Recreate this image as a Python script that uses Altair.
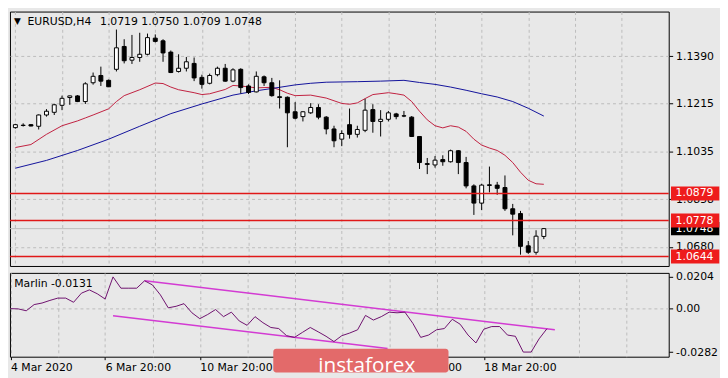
import altair as alt
import pandas as pd

symbol = "EURUSD,H4"
indicator = "Marlin"

bar_index = list(range(69))
opens = [1.1124, 1.1133, 1.1135, 1.1129, 1.1171, 1.1181, 1.1207, 1.1236, 1.1242, 1.1221,
         1.1291, 1.1318, 1.1300, 1.1341, 1.1426, 1.1375, 1.1385, 1.1397, 1.1457, 1.1447,
         1.1405, 1.1333, 1.1345, 1.1363, 1.1311, 1.1289, 1.1321, 1.1345, 1.1297, 1.1341,
         1.1279, 1.1257, 1.1313, 1.1291, 1.1239, 1.1237, 1.1183, 1.1165, 1.1179, 1.1199,
         1.1163, 1.1119, 1.1081, 1.1135, 1.1099, 1.1114, 1.1191, 1.1147, 1.1155, 1.1175,
         1.1168, 1.1163, 1.1091, 1.0990, 1.0985, 1.1005, 1.0997, 1.1038, 1.0994, 1.0907,
         1.0843, 1.0911, 1.0910, 1.0901, 1.0822, 1.0804, 1.0684, 1.0660, 1.0719]
highs = [1.1138, 1.1140, 1.1137, 1.1173, 1.1193, 1.1213, 1.1243, 1.1243, 1.1245, 1.1293,
         1.1329, 1.1351, 1.1303, 1.1489, 1.1453, 1.1469, 1.1477, 1.1474, 1.1471, 1.1453,
         1.1411, 1.1397, 1.1387, 1.1385, 1.1321, 1.1325, 1.1351, 1.1361, 1.1345, 1.1345,
         1.1285, 1.1333, 1.1318, 1.1309, 1.1300, 1.1240, 1.1219, 1.1185, 1.1215, 1.1211,
         1.1167, 1.1131, 1.1114, 1.1195, 1.1131, 1.1231, 1.1211, 1.1189, 1.1186, 1.1179,
         1.1186, 1.1167, 1.1092, 1.1011, 1.1018, 1.1021, 1.1042, 1.1040, 1.1015, 1.0913,
         1.0915, 1.0979, 1.0922, 1.0946, 1.0840, 1.0814, 1.0702, 1.0742, 1.0750]
lows = [1.1120, 1.1128, 1.1129, 1.1117, 1.1165, 1.1171, 1.1189, 1.1209, 1.1219, 1.1212,
        1.1284, 1.1279, 1.1275, 1.1333, 1.1363, 1.1361, 1.1369, 1.1393, 1.1441, 1.1369,
        1.1327, 1.1329, 1.1333, 1.1297, 1.1269, 1.1285, 1.1315, 1.1295, 1.1293, 1.1251,
        1.1249, 1.1255, 1.1279, 1.1239, 1.1195, 1.1051, 1.1155, 1.1147, 1.1175, 1.1155,
        1.1099, 1.1051, 1.1055, 1.1083, 1.1087, 1.1107, 1.1105, 1.1091, 1.1147, 1.1155,
        1.1163, 1.1089, 1.0970, 1.0951, 1.0975, 1.0982, 1.0994, 1.0951, 1.0898, 1.0799,
        1.0817, 1.0883, 1.0874, 1.0814, 1.0723, 1.0651, 1.0654, 1.0651, 1.0709]
closes = [1.1135, 1.1132, 1.1130, 1.1171, 1.1185, 1.1209, 1.1233, 1.1242, 1.1221, 1.1287,
          1.1315, 1.1297, 1.1276, 1.1421, 1.1373, 1.1385, 1.1397, 1.1459, 1.1445, 1.1402,
          1.1329, 1.1345, 1.1369, 1.1309, 1.1285, 1.1318, 1.1345, 1.1297, 1.1339, 1.1273,
          1.1255, 1.1315, 1.1291, 1.1243, 1.1236, 1.1179, 1.1159, 1.1183, 1.1199, 1.1163,
          1.1119, 1.1075, 1.1102, 1.1099, 1.1117, 1.1189, 1.1147, 1.1155, 1.1179, 1.1165,
          1.1167, 1.1091, 1.0994, 1.0987, 1.1003, 1.0997, 1.1038, 1.0994, 1.0907, 1.0843,
          1.0910, 1.0909, 1.0898, 1.0822, 1.0802, 1.0682, 1.0660, 1.0720, 1.0748]

red_ma_k = [0, 2, 4, 6, 8, 9, 10, 12, 13, 14, 16, 18, 19, 20, 21, 23, 24, 25, 27, 28,
            29, 31, 33, 34, 35, 36, 38, 40, 42, 43, 44, 45, 46, 48, 49, 50, 51, 52, 53, 54,
            55, 56, 57, 58, 59, 60, 61, 62, 63, 64, 65, 66, 67, 68]
red_ma_v = [1.1050, 1.1061, 1.1099, 1.1131, 1.1149, 1.1160, 1.1171, 1.1194, 1.1221, 1.1243,
            1.1265, 1.1290, 1.1288, 1.1275, 1.1265, 1.1254, 1.1247, 1.1250, 1.1266, 1.1281,
            1.1279, 1.1272, 1.1274, 1.1265, 1.1252, 1.1243, 1.1245, 1.1234, 1.1214, 1.1211,
            1.1216, 1.1232, 1.1247, 1.1254, 1.1250, 1.1245, 1.1221, 1.1185, 1.1153, 1.1131,
            1.1123, 1.1131, 1.1126, 1.1110, 1.1081, 1.1059, 1.1048, 1.1039, 1.1021, 1.0994,
            1.0958, 1.0928, 1.0915, 1.0913]
blue_ma_k = [0, 4, 8, 12, 16, 20, 24, 28, 31, 34, 36, 38, 40, 44, 47, 50, 52, 54, 56, 58,
             60, 62, 64, 66, 68]
blue_ma_v = [1.0973, 1.1002, 1.1039, 1.1081, 1.1129, 1.1176, 1.1212, 1.1245, 1.1261, 1.1274,
             1.1283, 1.1289, 1.1293, 1.1295, 1.1297, 1.1300, 1.1292, 1.1285, 1.1275, 1.1263,
             1.1250, 1.1238, 1.1221, 1.1196, 1.1167]

marlin = [-0.0001, -0.0003, -0.0015, 0.0025, 0.0035, 0.0052, 0.0067, 0.0067, 0.0040, 0.0099,
          0.0120, 0.0095, 0.0061, 0.0204, 0.0131, 0.0131, 0.0131, 0.0179, 0.0152, 0.0088,
          0.0004, 0.0014, 0.0031, -0.0028, -0.0066, -0.0039, -0.0007, -0.0053, -0.0024, -0.0081,
          -0.0109, -0.0053, -0.0092, -0.0123, -0.0130, -0.0176, -0.0187, -0.0155, -0.0123, -0.0151,
          -0.0180, -0.0214, -0.0176, -0.0159, -0.0138, -0.0045, -0.0075, -0.0053, -0.0024, -0.0028,
          -0.0024, -0.0096, -0.0187, -0.0172, -0.0138, -0.0130, -0.0070, -0.0102, -0.0172, -0.0223,
          -0.0134, -0.0117, -0.0117, -0.0172, -0.0180, -0.0282, -0.0282, -0.0197, -0.0131]

trend_k1 = [17, 13]
trend_k2 = [69, 47.8]
trend_v1 = [0.0179, -0.0047]
trend_v2 = [-0.0138, -0.0259]

price_ticks = [1.1390, 1.1215, 1.1035, 1.0858, 1.0680]
marlin_ticks = [0.0204, 0.0, -0.0282]
date_ticks = [0, 12, 24, 36, 48, 60]
date_labels = ["4 Mar 2020", "6 Mar 20:00", "10 Mar 20:00", "12 Mar 20:00",
               "16 Mar 20:00", "18 Mar 20:00"]
level_prices = [1.0879, 1.0778, 1.0644]
bid_price = 1.0748
watermark = "instaforex"

# ---------------- styling ----------------
W, HM, HL = 668, 258, 85
BG = "#E8E8E8"
GRID = "#BCBCBC"
FONT = "DejaVu Sans"

xs = alt.Scale(domain=[-0.0625, 83.4375], nice=False, zero=False)
ys_main = alt.Scale(domain=[1.0609, 1.1556], nice=False, zero=False)
ys_low = alt.Scale(domain=[-0.0312, 0.0230], nice=False, zero=False)
grid_pos = list(range(0, 84, 6))

ax_x_main = alt.Axis(values=grid_pos, labels=False, ticks=False, domain=False, grid=True,
                     gridDash=[3, 3], gridColor=GRID, title=None, zindex=0)
ax_y_main = alt.Axis(orient="right", values=price_ticks, format=".4f", domain=False,
                     tickSize=4, tickColor="black", labelPadding=3, labelFont=FONT,
                     labelFontSize=11, labelColor="black", grid=True, gridDash=[3, 3],
                     gridColor=GRID, title=None, zindex=0, labelOverlap=False)

date_expr = "''"
for pos, lab in reversed(list(zip(date_ticks, date_labels))):
    date_expr = f"datum.value == {pos} ? '{lab}' : ({date_expr})"

marlin_expr = "''"
for v in reversed(marlin_ticks):
    lab = "0.00" if v == 0 else f"{v:.4f}"
    marlin_expr = f"abs(datum.value - ({v})) < 1e-9 ? '{lab}' : ({marlin_expr})"

ax_x_low = alt.Axis(values=grid_pos, grid=True, gridDash=[3, 3], gridColor=GRID, domain=False,
                    tickSize=3,
                    tickColor={"condition": {"test": f"indexof({date_ticks}, datum.value) >= 0",
                                             "value": "black"}, "value": "transparent"},
                    labelExpr=date_expr, labelAlign="left", labelBaseline="top", labelPadding=2,
                    labelFont=FONT, labelFontSize=11, labelColor="black", labelOverlap=False,
                    labelFlush=False, labelBound=False, title=None, zindex=0)
ax_y_low = alt.Axis(orient="right", values=marlin_ticks, labelExpr=marlin_expr, domain=False,
                    tickSize=4, tickColor="black", labelPadding=3, labelFont=FONT,
                    labelFontSize=11, labelColor="black", grid=True, gridDash=[3, 3],
                    gridColor={"condition": {"test": "datum.value == 0", "value": GRID},
                               "value": "transparent"},
                    title=None, zindex=0, labelOverlap=False)


def XM(f):
    return alt.X(f, type="quantitative", scale=xs, axis=ax_x_main)


def YM(f):
    return alt.Y(f, type="quantitative", scale=ys_main, axis=ax_y_main)


def XL(f):
    return alt.X(f, type="quantitative", scale=xs, axis=ax_x_low)


def YL(f):
    return alt.Y(f, type="quantitative", scale=ys_low, axis=ax_y_low)


cdf = pd.DataFrame({"k": bar_index, "o": opens, "h": highs, "l": lows, "c": closes})
red_df = pd.DataFrame({"k": red_ma_k, "v": red_ma_v})
blue_df = pd.DataFrame({"k": blue_ma_k, "v": blue_ma_v})
lvl_df = pd.DataFrame({"p": level_prices, "t": [f"{p:.4f}" for p in level_prices]})
bid_df = pd.DataFrame({"p": [bid_price], "t": [f"{bid_price:.4f}"]})

bid_rule = alt.Chart(bid_df).mark_rule(color="#BDBDBD", strokeWidth=1).encode(y=YM("p"))
red_line = alt.Chart(red_df).mark_line(color="#C0203F", strokeWidth=1, clip=True).encode(
    x=XM("k"), y=YM("v"))
blue_line = alt.Chart(blue_df).mark_line(color="#10109A", strokeWidth=1, clip=True).encode(
    x=XM("k"), y=YM("v"))
wicks = alt.Chart(cdf).mark_rule(color="black", strokeWidth=1, clip=True).encode(
    x=XM("k"), y=YM("l"), y2="h:Q")
bodies = alt.Chart(cdf).mark_bar(size=4, stroke="black", strokeWidth=1, clip=True,
                                 orient="vertical").encode(
    x=XM("k"), y=YM("o"), y2="c:Q",
    fill=alt.condition("datum.c >= datum.o", alt.value("white"), alt.value("black")))
lvl_rules = alt.Chart(lvl_df).mark_rule(color="#E01818", strokeWidth=1.5).encode(y=YM("p"))

bid_box = alt.Chart(bid_df).transform_calculate(
    lo="datum.p - 0.0025", hi="datum.p + 0.0025").mark_rect(color="black").encode(
    x=alt.value(W + 2.3), x2=alt.value(W + 51.3), y=YM("lo"), y2="hi:Q")
bid_txt = alt.Chart(bid_df).mark_text(align="left", baseline="middle", color="white",
                                      font=FONT, fontSize=11).encode(
    x=alt.value(W + 7), y=YM("p"), text="t:N")
lvl_box = alt.Chart(lvl_df).transform_calculate(
    lo="datum.p - 0.0026", hi="datum.p + 0.0026").mark_rect(color="#EE1C1C").encode(
    x=alt.value(W + 2.3), x2=alt.value(W + 51.3), y=YM("lo"), y2="hi:Q")
lvl_txt = alt.Chart(lvl_df).mark_text(align="left", baseline="middle", color="white",
                                      font=FONT, fontSize=11).encode(
    x=alt.value(W + 7), y=YM("p"), text="t:N")

head_df = pd.DataFrame({
    "t": ["\u25BC", symbol,
          f"{opens[-1]:.4f} {highs[-1]:.4f} {lows[-1]:.4f} {closes[-1]:.4f}"],
    "px": [7.5, 17.7, 91.3],
    "al": ["center", "left", "left"],
})
head_tri = alt.Chart(head_df.iloc[[0]]).mark_text(align="center", baseline="middle",
                                                  fontSize=9, font=FONT, color="black").encode(
    x=alt.value(7.5), y=alt.value(9.5), text="t:N")
head_sym = alt.Chart(head_df.iloc[[1]]).mark_text(align="left", baseline="alphabetic",
                                                  fontSize=11, font=FONT, color="black").encode(
    x=alt.value(17.7), y=alt.value(13.5), text="t:N")
head_px = alt.Chart(head_df.iloc[[2]]).mark_text(align="left", baseline="alphabetic",
                                                 fontSize=11, font=FONT, color="black").encode(
    x=alt.value(91.3), y=alt.value(13.5), text="t:N")

main = alt.layer(bid_rule, red_line, blue_line, wicks, bodies, lvl_rules, bid_box, bid_txt,
                 lvl_box, lvl_txt, head_tri, head_sym, head_px).properties(width=W, height=HM)

mdf = pd.DataFrame({"k": bar_index, "m": marlin})
tdf = pd.DataFrame({"k1": trend_k1, "k2": trend_k2, "v1": trend_v1, "v2": trend_v2})
trend = alt.Chart(tdf).mark_rule(color="#D33BD3", strokeWidth=1.5, clip=True).encode(
    x=XL("k1"), x2="k2:Q", y=YL("v1"), y2="v2:Q")
mline = alt.Chart(mdf).mark_line(color="#6E106E", strokeWidth=1, clip=True).encode(
    x=XL("k"), y=YL("m"))
mtitle = alt.Chart(pd.DataFrame({"t": [f"{indicator} {marlin[-1]:.4f}"]})).mark_text(
    align="left", baseline="alphabetic", fontSize=11, font=FONT, color="black").encode(
    x=alt.value(4.3), y=alt.value(14.3), text="t:N")
wm_df = pd.DataFrame({"t": [watermark]})
wm_box = alt.Chart(wm_df).mark_rect(color="#E36A6A", cornerRadius=3).encode(
    x=alt.value(267), x2=alt.value(444.7), y=alt.value(77), y2=alt.value(101))
wm_txt = alt.Chart(wm_df).mark_text(align="left", baseline="alphabetic", fontSize=21,
                                    font="Open Sans", color="white").encode(
    x=alt.value(312.7), y=alt.value(100), text="t:N")

low = alt.layer(trend, mline, mtitle, wm_box, wm_txt).properties(width=W, height=HL)

chart = alt.vconcat(main, low, spacing=3).resolve_scale(
    x="independent", y="independent").properties(
    padding=0, background=BG).configure_view(stroke="black", strokeWidth=1, fill=BG)

chart.save("out.html", embed_options={"renderer": "svg", "actions": False})
